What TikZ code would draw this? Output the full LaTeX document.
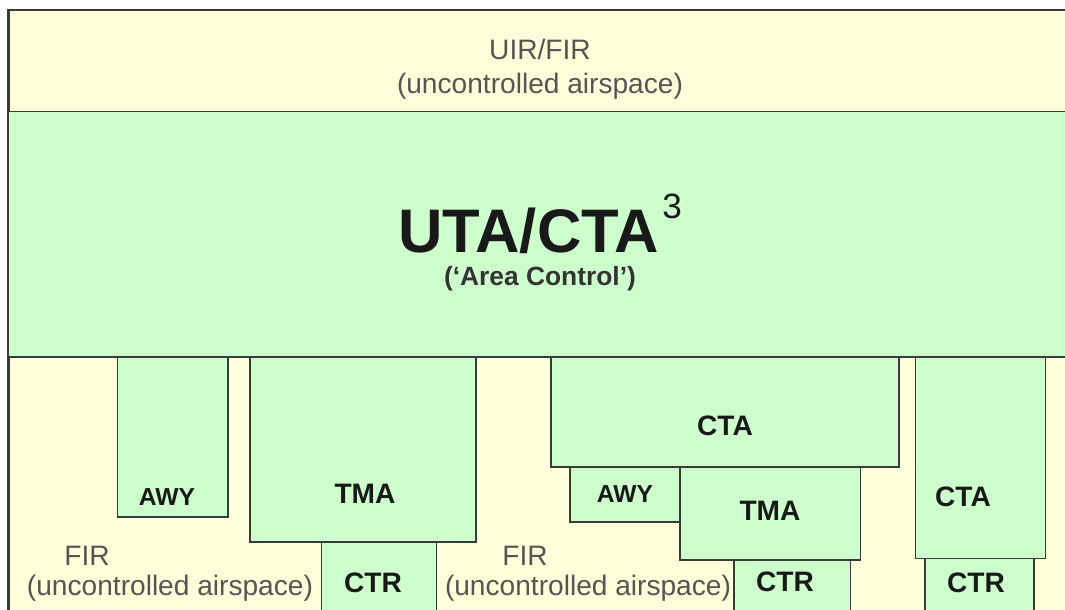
\documentclass[tikz,border=0pt]{standalone}
\usepackage{fontspec}
\setmainfont{Liberation Sans}
\usepackage{xcolor}
\usepackage{tikz}

\definecolor{firyellow}{HTML}{FFFFDA}
\definecolor{ctlgreen}{HTML}{CCFFCC}
\definecolor{edgegray}{HTML}{3A3A3A}
\definecolor{txtgray}{HTML}{555555}

\begin{document}
\begin{tikzpicture}[x=0.2mm,y=-0.2mm,
  zone/.style={draw=edgegray,line width=1.1pt,fill=ctlgreen},
  plain/.style={anchor=base,inner sep=0pt,text=txtgray,font=\fontsize{16}{19}\selectfont},
  tag/.style={anchor=base,inner sep=0pt,text=black!90,font=\bfseries\fontsize{16}{19}\selectfont},
  smalltag/.style={tag,font=\bfseries\fontsize{14}{17}\selectfont}]
\useasboundingbox (0,0) rectangle (1065,610);
\clip (0,0) rectangle (1065,610);

% FIR/UIR background and the area control band
\draw [draw=edgegray,line width=1.3pt,fill=firyellow] (8.5,10) rectangle (1090,640);
\draw [zone] (8.5,111.5) rectangle (1090,357);

% left group
\draw [zone] (117.5,357) rectangle (228,517);
\draw [zone] (250,357) rectangle (476,542);
\draw [zone] (321.5,542) rectangle (436.5,640);

% middle group
\draw [zone] (551,357) rectangle (899,467);
\draw [zone] (570,467) rectangle (680,522);
\draw [zone] (680,467) rectangle (860.5,560);
\draw [zone] (734,560) rectangle (850.5,640);

% right group
\draw [zone] (915.5,357) rectangle (1045.5,558.5);
\draw [zone] (925,558.5) rectangle (1034,640);

\node [plain,text depth=0pt] (uir) at (540,60) {UIR/FIR};
\node [plain] (uirfree) at (540,94) {(uncontrolled airspace)};

\node [tag,text depth=0pt,font=\bfseries\fontsize{35}{38}\selectfont] (uta) at (540,252)
  {UTA/CTA\kern2pt\raisebox{19pt}{\mdseries\fontsize{20}{20}\selectfont 3}};
\node [tag,text=black!80,font=\bfseries\fontsize{15}{18}\selectfont] (area) at (540,285) {(‘Area Control’)};

\node [smalltag] (awyA) at (167,505) {AWY};
\node [tag] (tmaA) at (365,503) {TMA};
\node [tag] (ctrA) at (373,592) {CTR};
\node [plain,text depth=0pt] (firA) at (87,565) {FIR};
\node [plain] (freeA) at (170,595) {(uncontrolled airspace)};

\node [tag] (ctaB) at (725,435) {CTA};
\node [smalltag] (awyB) at (625,502) {AWY};
\node [tag] (tmaB) at (770,520) {TMA};
\node [tag] (ctrB) at (785,591) {CTR};
\node [plain,text depth=0pt] (firB) at (525,565) {FIR};
\node [plain] (freeB) at (588,595) {(uncontrolled airspace)};

\node [tag] (ctaC) at (963,506) {CTA};
\node [tag] (ctrC) at (976,592) {CTR};
\end{tikzpicture}
\end{document}
